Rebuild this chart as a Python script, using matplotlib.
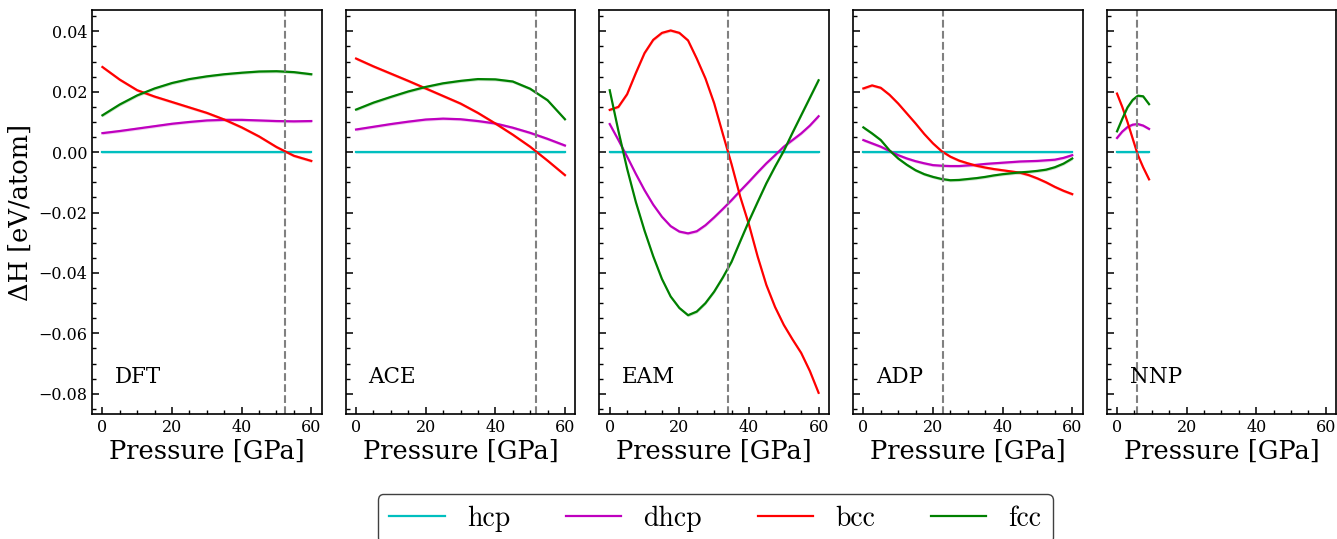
# Enthalpy differences vs pressure for several potentials
import matplotlib
matplotlib.use("Agg")
import matplotlib.pyplot as plt
from matplotlib.ticker import MultipleLocator

# pressures (GPa) for each panel
p_dft = [0, 5, 10, 15, 20, 25, 30, 35, 40, 45, 50, 55, 60]
p_ace = [0, 5, 10, 15, 20, 25, 30, 35, 40, 45, 50, 55, 60]
p_eam = [0, 2.5, 5, 7.5, 10, 12.5, 15, 17.5, 20, 22.5, 25, 27.5, 30, 32.5, 35,
         37.5, 40, 42.5, 45, 47.5, 50, 52.5, 55, 57.5, 60]
p_adp = p_eam
p_nnp = [0, 1.5, 3, 4.5, 6, 7.5, 9.2]

# DFT (eV/atom)
dft_dhcp = [0.0063, 0.0070, 0.0078, 0.0086, 0.0094, 0.0100, 0.0105, 0.0107, 0.0107, 0.0105, 0.0103, 0.0102, 0.0103]
dft_bcc = [0.0282, 0.0240, 0.0205, 0.0184, 0.0166, 0.0148, 0.0130, 0.0108, 0.0082, 0.0052, 0.0017, -0.0012, -0.0029]
dft_fcc = [0.0122, 0.0158, 0.0188, 0.0211, 0.0229, 0.0242, 0.0251, 0.0258, 0.0263, 0.0267, 0.0268, 0.0265, 0.0258]

# ACE
ace_dhcp = [0.0075, 0.0084, 0.0093, 0.0101, 0.0108, 0.0111, 0.0109, 0.0103, 0.0095, 0.0081, 0.0064, 0.0044, 0.0022]
ace_bcc = [0.0310, 0.0284, 0.0260, 0.0236, 0.0211, 0.0186, 0.0161, 0.0130, 0.0095, 0.0058, 0.0018, -0.0028, -0.0076]
ace_fcc = [0.0141, 0.0164, 0.0183, 0.0201, 0.0216, 0.0228, 0.0236, 0.0242, 0.0241, 0.0234, 0.0210, 0.0172, 0.0109]

# EAM
eam_dhcp = [0.0093, 0.0040, -0.0015, -0.0072, -0.0126, -0.0174, -0.0214, -0.0245, -0.0263, -0.0269, -0.0262, -0.0242,
            -0.0216, -0.0188, -0.0159, -0.0128, -0.0098, -0.0067, -0.0037, -0.0010, 0.0018, 0.0040, 0.0062, 0.0088, 0.0119]
eam_bcc = [0.0140, 0.0150, 0.0192, 0.0262, 0.0328, 0.0372, 0.0395, 0.0403, 0.0395, 0.0370, 0.0310, 0.0244,
           0.0162, 0.0060, -0.0040, -0.0148, -0.0240, -0.0346, -0.0440, -0.0513, -0.0572, -0.0620, -0.0665, -0.0725, -0.0797]
eam_fcc = [0.0205, 0.0070, -0.0055, -0.0165, -0.0260, -0.0345, -0.0420, -0.0478, -0.0516, -0.0540, -0.0528, -0.0500,
           -0.0462, -0.0415, -0.0363, -0.0295, -0.0228, -0.0165, -0.0103, -0.0048, 0.0004, 0.0064, 0.0122, 0.0180, 0.0238]

# ADP
adp_dhcp = [0.0040, 0.0029, 0.0018, 0.0004, -0.0010, -0.0021, -0.0030, -0.0037, -0.0043, -0.0045, -0.0046, -0.0046,
            -0.0044, -0.0042, -0.0039, -0.0037, -0.0035, -0.0033, -0.0031, -0.0030, -0.0029, -0.0027, -0.0025, -0.0019, -0.0010]
adp_bcc = [0.0211, 0.0221, 0.0213, 0.0190, 0.0161, 0.0128, 0.0095, 0.0060, 0.0029, 0.0003, -0.0015, -0.0028,
           -0.0037, -0.0045, -0.0051, -0.0056, -0.0060, -0.0064, -0.0068, -0.0076, -0.0087, -0.0100, -0.0115, -0.0128, -0.0139]
adp_fcc = [0.0082, 0.0062, 0.0040, 0.0006, -0.0021, -0.0042, -0.0060, -0.0073, -0.0082, -0.0089, -0.0093, -0.0092,
           -0.0089, -0.0086, -0.0082, -0.0077, -0.0073, -0.0070, -0.0067, -0.0065, -0.0062, -0.0058, -0.0050, -0.0038, -0.0021]

# NNP
nnp_dhcp = [0.0047, 0.0068, 0.0083, 0.0091, 0.0093, 0.0088, 0.0077]
nnp_bcc = [0.0194, 0.0150, 0.0100, 0.0045, -0.0010, -0.0050, -0.0090]
nnp_fcc = [0.0069, 0.0110, 0.0148, 0.0173, 0.0187, 0.0185, 0.0159]

methods = ["DFT", "ACE", "EAM", "ADP", "NNP"]
pressures = [p_dft, p_ace, p_eam, p_adp, p_nnp]
dhcp_all = [dft_dhcp, ace_dhcp, eam_dhcp, adp_dhcp, nnp_dhcp]
bcc_all = [dft_bcc, ace_bcc, eam_bcc, adp_bcc, nnp_bcc]
fcc_all = [dft_fcc, ace_fcc, eam_fcc, adp_fcc, nnp_fcc]
transition = [52.5, 51.6, 34.0, 22.9, 5.65]

phases = ["hcp", "dhcp", "bcc", "fcc"]
colors = ["c", "m", "r", "g"]

plt.rcParams["font.family"] = "DejaVu Serif"
plt.rcParams["axes.linewidth"] = 1.2

fig, axes = plt.subplots(1, 5, figsize=(13.37, 5.39), dpi=100, sharey=True)
fig.subplots_adjust(left=0.0688, right=0.9995, top=0.981, bottom=0.232, wspace=0.104)

band = 0.0005
for i, ax in enumerate(axes):
    p = pressures[i]
    hcp = [0.0] * len(p)
    series = [hcp, dhcp_all[i], bcc_all[i], fcc_all[i]]
    for vals, col, name in zip(series, colors, phases):
        ax.plot(p, vals, color=col, lw=1.6, label=name)
        ax.fill_between(p, [v - band for v in vals], [v + band for v in vals],
                        color=col, alpha=0.2, lw=0)
    ax.axvline(transition[i], color="gray", ls="--", lw=1.5)
    ax.text(0.1, 0.065, methods[i], transform=ax.transAxes, fontsize=15.5,
            ha="left", va="bottom")

    ax.set_xlim(-3, 63)
    ax.set_ylim(-0.0867, 0.047)
    ax.set_xticks([0, 20, 40, 60])
    ax.xaxis.set_minor_locator(MultipleLocator(5))
    ax.set_yticks([-0.08, -0.06, -0.04, -0.02, 0.0, 0.02, 0.04])
    ax.yaxis.set_minor_locator(MultipleLocator(0.005))
    ax.tick_params(which="both", direction="in", labelsize=11.5)
    ax.tick_params(which="major", length=5, width=1.1)
    ax.tick_params(which="minor", length=3, width=1.0)
    ax.set_xlabel("Pressure [GPa]", fontsize=18.5, labelpad=2)

axes[0].set_ylabel("ΔH [eV/atom]", fontsize=18.5)

handles, labels = axes[0].get_legend_handles_labels()
leg = fig.legend(handles, labels, loc="upper center", bbox_to_anchor=(0.535, 0.109),
                 ncol=4, prop={"family": "cmr10", "size": 20}, framealpha=1,
                 edgecolor="0.25")

fig.savefig("out.png", dpi=100)
